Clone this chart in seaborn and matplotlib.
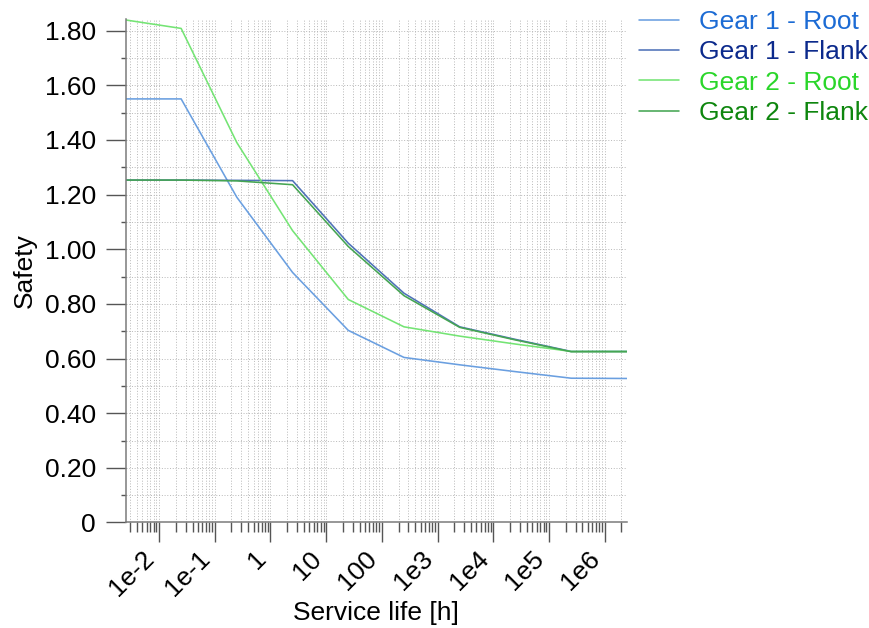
import numpy as np
import pandas as pd
import matplotlib
matplotlib.use("Agg")
import matplotlib.pyplot as plt
import seaborn as sns
from matplotlib.ticker import FixedLocator, MultipleLocator, LogLocator, NullFormatter
from matplotlib.lines import Line2D

# ---- data ----
service_life = [0.0025, 0.025, 0.25, 2.5, 25, 250, 2500, 25000, 250000, 2500000]
gear1_root = [1.550, 1.550, 1.190, 0.915, 0.703, 0.604, 0.577, 0.552, 0.528, 0.527]
gear1_flank = [1.253, 1.253, 1.252, 1.251, 1.022, 0.839, 0.716, 0.670, 0.626, 0.626]
gear2_root = [1.839, 1.808, 1.390, 1.068, 0.816, 0.716, 0.682, 0.653, 0.626, 0.626]
gear2_flank = [1.253, 1.253, 1.250, 1.236, 1.010, 0.830, 0.714, 0.668, 0.625, 0.625]
series_names = ["Gear 1 - Root", "Gear 1 - Flank", "Gear 2 - Root", "Gear 2 - Flank"]
line_colors = ["#6a9fe0", "#4f72b8", "#74e474", "#45a552"]
text_colors = ["#1c6bd4", "#0c2a8c", "#2ad62a", "#0e860e"]
x_tick_values = [1e-2, 1e-1, 1, 10, 100, 1e3, 1e4, 1e5, 1e6]
x_tick_labels = ["1e-2", "1e-1", "1", "10", "100", "1e3", "1e4", "1e5", "1e6"]
y_tick_values = [0, 0.2, 0.4, 0.6, 0.8, 1.0, 1.2, 1.4, 1.6, 1.8]
y_tick_labels = ["0", "0.20", "0.40", "0.60", "0.80", "1.00", "1.20", "1.40", "1.60", "1.80"]

series_values = [gear1_root, gear1_flank, gear2_root, gear2_flank]
df = pd.DataFrame({
    "Service life [h]": np.tile(service_life, len(series_names)),
    "Safety": np.concatenate(series_values),
    "Series": np.repeat(series_names, len(service_life)),
})

sns.set_theme(style="white")
plt.rcParams["font.family"] = ["Liberation Sans", "DejaVu Sans"]
plt.rcParams["text.color"] = "black"
plt.rcParams["axes.labelcolor"] = "black"
plt.rcParams["xtick.labelcolor"] = "black"
plt.rcParams["ytick.labelcolor"] = "black"

fig = plt.figure(figsize=(8.7, 6.28), dpi=100)
ax = fig.add_axes([0.1445, 0.168, 0.576, 0.802])

sns.lineplot(data=df, x="Service life [h]", y="Safety", hue="Series",
             hue_order=series_names, palette=line_colors, linewidth=1.15,
             legend=False, ax=ax, sort=False)

ax.set_xscale("log")
ax.set_xlim(0.00253, 2.5e6)
ax.set_ylim(0, 1.843)

ax.xaxis.set_major_locator(FixedLocator(x_tick_values))
ax.set_xticklabels(x_tick_labels, rotation=45, ha="right", fontsize=19, color="black")
ax.xaxis.set_minor_locator(LogLocator(base=10, subs=np.arange(2, 10), numticks=100))
ax.xaxis.set_minor_formatter(NullFormatter())

ax.yaxis.set_major_locator(FixedLocator(y_tick_values))
ax.set_yticklabels(y_tick_labels, fontsize=19, color="black")
ax.yaxis.set_minor_locator(MultipleLocator(0.1))

ax.grid(True, which="both", axis="both", linestyle=(0, (1, 1.8)),
        color="#b8b8b8", linewidth=0.7)

for s in ["top", "right"]:
    ax.spines[s].set_visible(False)
for s in ["left", "bottom"]:
    ax.spines[s].set_color("#7a7a7a")
    ax.spines[s].set_linewidth(1.1)

ax.tick_params(axis="x", which="major", direction="out", length=14.4, width=1.0,
               color="#555555", pad=3, bottom=True)
ax.tick_params(axis="x", which="minor", direction="out", length=7.2, width=1.0,
               color="#555555", bottom=True)
ax.tick_params(axis="y", which="major", direction="out", length=14.4, width=1.0,
               color="#555555", pad=7, left=True)
ax.tick_params(axis="y", which="minor", direction="out", length=3.6, width=1.0,
               color="#555555", left=True)

ax.set_xlabel("Service life [h]", fontsize=19, labelpad=0, color="black")
ax.set_ylabel("Safety", fontsize=19, labelpad=6, color="black")

handles = [Line2D([0], [0], color=c, linewidth=1.15) for c in line_colors]
leg = fig.legend(handles, series_names, loc="upper left",
                 bbox_to_anchor=(0.722, 1.001), frameon=False, fontsize=19,
                 handlelength=1.52, handletextpad=0.78, labelspacing=0.24,
                 borderaxespad=0)
for t, c in zip(leg.get_texts(), text_colors):
    t.set_color(c)

fig.savefig("out.png", dpi=100)
